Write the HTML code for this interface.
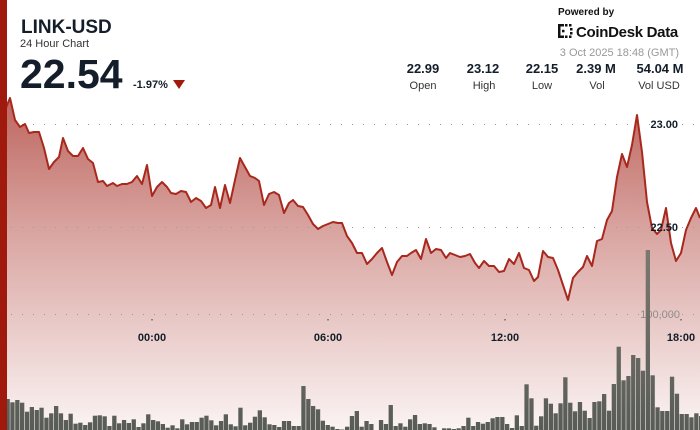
<!DOCTYPE html>
<html><head><meta charset="utf-8"><style>
html,body{margin:0;padding:0;background:#fff;}
svg{display:block;font-family:"Liberation Sans",sans-serif;}
</style></head><body>
<svg width="700" height="430" viewBox="0 0 700 430" xmlns="http://www.w3.org/2000/svg">
<defs>
<linearGradient id="af" gradientUnits="userSpaceOnUse" x1="0" y1="100" x2="0" y2="430">
<stop offset="0" stop-color="rgb(160,30,20)" stop-opacity="0.68"/>
<stop offset="0.4" stop-color="rgb(160,30,20)" stop-opacity="0.40"/>
<stop offset="1" stop-color="rgb(160,30,20)" stop-opacity="0.05"/>
</linearGradient>
<linearGradient id="vb" gradientUnits="userSpaceOnUse" x1="0" y1="250" x2="0" y2="430">
<stop offset="0" stop-color="#7c7870"/>
<stop offset="1" stop-color="#585c56"/>
</linearGradient>
</defs>
<rect width="700" height="430" fill="#fff"/>
<path fill="url(#af)" d="M0,115 L5,110 L10,98 L15,120 L20,127 L25,124 L29,133 L34,132 L39,132 L44,148 L49,169 L54,162 L59,157 L63,138 L68,151 L73,156 L78,156 L83,148 L88,159 L93,163 L98,182 L103,181 L107,186 L113,183 L117,186 L122,184 L127,184 L132,182 L137,176 L142,184 L147,165 L152,196 L157,187 L162,182 L167,187 L171,193 L176,194 L181,191 L186,192 L191,202 L196,198 L201,201 L206,208 L211,205 L215,187 L220,208 L225,185 L230,203 L235,180 L240,158 L245,167 L250,176 L255,178 L259,181 L264,205 L269,194 L274,192 L279,195 L284,213 L289,203 L293,200 L298,206 L303,207 L308,215 L313,224 L318,229 L323,226 L328,224 L333,222 L338,223 L342,223 L347,236 L352,243 L357,253 L362,253 L367,264 L372,259 L377,253 L382,248 L387,262 L392,275 L397,262 L402,256 L407,256 L411,253 L416,250 L421,259 L426,239 L431,253 L436,249 L441,250 L446,258 L450,253 L455,255 L460,257 L465,256 L470,254 L475,263 L479,268 L484,261 L489,266 L494,266 L499,272 L504,271 L509,259 L514,264 L519,253 L524,268 L529,270 L534,281 L538,277 L543,251 L548,257 L553,258 L558,270 L563,285 L568,300 L573,278 L578,272 L583,267 L587,256 L592,266 L597,241 L602,239 L607,220 L612,211 L617,177 L622,154 L627,167 L632,145 L637,115 L642,152 L647,202 L652,228 L657,234 L661,230 L666,208 L671,243 L676,261 L681,253 L686,230 L691,218 L696,208 L700,218 L700,430 L0,430 Z"/>
<g stroke="#999" stroke-width="1" stroke-dasharray="1 10">
<line x1="11" y1="124.5" x2="700" y2="124.5"/>
<line x1="11" y1="227.5" x2="700" y2="227.5"/>
<line x1="11" y1="314.5" x2="700" y2="314.5"/>
</g>
<polyline fill="none" stroke="#a8281d" stroke-width="2" stroke-linejoin="round" points="0,115 5,110 10,98 15,120 20,127 25,124 29,133 34,132 39,132 44,148 49,169 54,162 59,157 63,138 68,151 73,156 78,156 83,148 88,159 93,163 98,182 103,181 107,186 113,183 117,186 122,184 127,184 132,182 137,176 142,184 147,165 152,196 157,187 162,182 167,187 171,193 176,194 181,191 186,192 191,202 196,198 201,201 206,208 211,205 215,187 220,208 225,185 230,203 235,180 240,158 245,167 250,176 255,178 259,181 264,205 269,194 274,192 279,195 284,213 289,203 293,200 298,206 303,207 308,215 313,224 318,229 323,226 328,224 333,222 338,223 342,223 347,236 352,243 357,253 362,253 367,264 372,259 377,253 382,248 387,262 392,275 397,262 402,256 407,256 411,253 416,250 421,259 426,239 431,253 436,249 441,250 446,258 450,253 455,255 460,257 465,256 470,254 475,263 479,268 484,261 489,266 494,266 499,272 504,271 509,259 514,264 519,253 524,268 529,270 534,281 538,277 543,251 548,257 553,258 558,270 563,285 568,300 573,278 578,272 583,267 587,256 592,266 597,241 602,239 607,220 612,211 617,177 622,154 627,167 632,145 637,115 642,152 647,202 652,228 657,234 661,230 666,208 671,243 676,261 681,253 686,230 691,218 696,208 700,218"/>
<g font-size="11" font-weight="bold" fill="#141e2b">
<text x="678" y="128" text-anchor="end">23.00</text>
<text x="678" y="231" text-anchor="end">22.50</text>
<text x="152" y="341" text-anchor="middle">00:00</text>
<text x="328" y="341" text-anchor="middle">06:00</text>
<text x="505" y="341" text-anchor="middle">12:00</text>
<text x="681" y="341" text-anchor="middle">18:00</text>
</g>
<text x="680" y="318" text-anchor="end" font-size="11" fill="#8c8c8c">100,000</text>
<g fill="#333">
<rect x="151.5" y="319" width="1" height="1.5"/>
<rect x="327.5" y="319" width="1" height="1.5"/>
<rect x="504.5" y="319" width="1" height="1.5"/>
<rect x="680.5" y="319" width="1" height="1.5"/>
</g>
<g fill="url(#vb)">
<rect x="5.5" y="399" width="4.3" height="31"/>
<rect x="10.3" y="402.3" width="4.3" height="27.7"/>
<rect x="15.2" y="400" width="4.3" height="30"/>
<rect x="20.0" y="402.7" width="4.3" height="27.3"/>
<rect x="24.9" y="411.7" width="4.3" height="18.3"/>
<rect x="29.7" y="407" width="4.3" height="23"/>
<rect x="34.6" y="410" width="4.3" height="20"/>
<rect x="39.4" y="407.7" width="4.3" height="22.3"/>
<rect x="44.3" y="417.7" width="4.3" height="12.3"/>
<rect x="49.1" y="413.3" width="4.3" height="16.7"/>
<rect x="54.0" y="406" width="4.3" height="24"/>
<rect x="58.8" y="413.3" width="4.3" height="16.7"/>
<rect x="63.7" y="420" width="4.3" height="10"/>
<rect x="68.5" y="413.7" width="4.3" height="16.3"/>
<rect x="73.4" y="423.7" width="4.3" height="6.3"/>
<rect x="78.2" y="422.7" width="4.3" height="7.3"/>
<rect x="83.1" y="425" width="4.3" height="5"/>
<rect x="87.9" y="422.3" width="4.3" height="7.7"/>
<rect x="92.8" y="415.7" width="4.3" height="14.3"/>
<rect x="97.6" y="415.3" width="4.3" height="14.7"/>
<rect x="102.5" y="416.3" width="4.3" height="13.7"/>
<rect x="107.3" y="426" width="4.3" height="4"/>
<rect x="112.2" y="415.7" width="4.3" height="14.3"/>
<rect x="117.0" y="423.3" width="4.3" height="6.7"/>
<rect x="121.9" y="420" width="4.3" height="10"/>
<rect x="126.7" y="423" width="4.3" height="7"/>
<rect x="131.6" y="419.3" width="4.3" height="10.7"/>
<rect x="136.4" y="427" width="4.3" height="3"/>
<rect x="141.3" y="423.3" width="4.3" height="6.7"/>
<rect x="146.1" y="414.3" width="4.3" height="15.7"/>
<rect x="151.0" y="420" width="4.3" height="10"/>
<rect x="155.8" y="421.3" width="4.3" height="8.7"/>
<rect x="160.7" y="424" width="4.3" height="6"/>
<rect x="165.5" y="427.7" width="4.3" height="2.3"/>
<rect x="170.4" y="425.3" width="4.3" height="4.7"/>
<rect x="175.2" y="428.3" width="4.3" height="1.7"/>
<rect x="180.1" y="419.3" width="4.3" height="10.7"/>
<rect x="184.9" y="424.3" width="4.3" height="5.7"/>
<rect x="189.8" y="422" width="4.3" height="8"/>
<rect x="194.6" y="422" width="4.3" height="8"/>
<rect x="199.5" y="417.7" width="4.3" height="12.3"/>
<rect x="204.3" y="415.7" width="4.3" height="14.3"/>
<rect x="209.2" y="420.3" width="4.3" height="9.7"/>
<rect x="214.0" y="425.3" width="4.3" height="4.7"/>
<rect x="218.9" y="421" width="4.3" height="9"/>
<rect x="223.7" y="414.3" width="4.3" height="15.7"/>
<rect x="228.6" y="424.3" width="4.3" height="5.7"/>
<rect x="233.4" y="426.3" width="4.3" height="3.7"/>
<rect x="238.3" y="407.7" width="4.3" height="22.3"/>
<rect x="243.1" y="425.3" width="4.3" height="4.7"/>
<rect x="248.0" y="422.7" width="4.3" height="7.3"/>
<rect x="252.8" y="416.7" width="4.3" height="13.3"/>
<rect x="257.7" y="410.3" width="4.3" height="19.7"/>
<rect x="262.5" y="417.3" width="4.3" height="12.7"/>
<rect x="267.4" y="424.3" width="4.3" height="5.7"/>
<rect x="272.2" y="425" width="4.3" height="5"/>
<rect x="277.1" y="427" width="4.3" height="3"/>
<rect x="281.9" y="421" width="4.3" height="9"/>
<rect x="286.8" y="421" width="4.3" height="9"/>
<rect x="291.6" y="426" width="4.3" height="4"/>
<rect x="296.5" y="426" width="4.3" height="4"/>
<rect x="301.3" y="386" width="4.3" height="44"/>
<rect x="306.2" y="399" width="4.3" height="31"/>
<rect x="311.0" y="406" width="4.3" height="24"/>
<rect x="315.9" y="409.3" width="4.3" height="20.7"/>
<rect x="320.7" y="420.7" width="4.3" height="9.3"/>
<rect x="325.6" y="425" width="4.3" height="5"/>
<rect x="330.4" y="426.7" width="4.3" height="3.3"/>
<rect x="335.3" y="429" width="4.3" height="1"/>
<rect x="340.1" y="429.5" width="4.3" height="0.5"/>
<rect x="345.0" y="426.7" width="4.3" height="3.3"/>
<rect x="349.8" y="416" width="4.3" height="14"/>
<rect x="354.7" y="411" width="4.3" height="19"/>
<rect x="359.5" y="426.7" width="4.3" height="3.3"/>
<rect x="364.4" y="421" width="4.3" height="9"/>
<rect x="369.2" y="424" width="4.3" height="6"/>
<rect x="378.9" y="420" width="4.3" height="10"/>
<rect x="383.8" y="424" width="4.3" height="6"/>
<rect x="388.6" y="405" width="4.3" height="25"/>
<rect x="393.5" y="426" width="4.3" height="4"/>
<rect x="398.3" y="423.3" width="4.3" height="6.7"/>
<rect x="403.2" y="426.7" width="4.3" height="3.3"/>
<rect x="408.0" y="419.3" width="4.3" height="10.7"/>
<rect x="412.9" y="415" width="4.3" height="15"/>
<rect x="417.7" y="424" width="4.3" height="6"/>
<rect x="422.6" y="423.3" width="4.3" height="6.7"/>
<rect x="427.4" y="424" width="4.3" height="6"/>
<rect x="432.3" y="427.3" width="4.3" height="2.7"/>
<rect x="442.0" y="428.3" width="4.3" height="1.7"/>
<rect x="446.8" y="428.3" width="4.3" height="1.7"/>
<rect x="451.7" y="429" width="4.3" height="1"/>
<rect x="456.5" y="428.3" width="4.3" height="1.7"/>
<rect x="461.4" y="426" width="4.3" height="4"/>
<rect x="466.2" y="417.7" width="4.3" height="12.3"/>
<rect x="471.1" y="426" width="4.3" height="4"/>
<rect x="475.9" y="422" width="4.3" height="8"/>
<rect x="480.8" y="423.7" width="4.3" height="6.3"/>
<rect x="485.6" y="422" width="4.3" height="8"/>
<rect x="490.5" y="418.3" width="4.3" height="11.7"/>
<rect x="495.3" y="417" width="4.3" height="13"/>
<rect x="500.2" y="417" width="4.3" height="13"/>
<rect x="505.0" y="424" width="4.3" height="6"/>
<rect x="509.9" y="428" width="4.3" height="2"/>
<rect x="514.7" y="415.3" width="4.3" height="14.7"/>
<rect x="519.6" y="426" width="4.3" height="4"/>
<rect x="524.4" y="384.3" width="4.3" height="45.7"/>
<rect x="529.3" y="398.3" width="4.3" height="31.7"/>
<rect x="534.1" y="425.7" width="4.3" height="4.3"/>
<rect x="539.0" y="416.3" width="4.3" height="13.7"/>
<rect x="543.8" y="398.3" width="4.3" height="31.7"/>
<rect x="548.7" y="403.7" width="4.3" height="26.3"/>
<rect x="553.5" y="413.3" width="4.3" height="16.7"/>
<rect x="558.4" y="403.3" width="4.3" height="26.7"/>
<rect x="563.2" y="377.3" width="4.3" height="52.7"/>
<rect x="568.1" y="402.7" width="4.3" height="27.3"/>
<rect x="572.9" y="411.3" width="4.3" height="18.7"/>
<rect x="577.8" y="402" width="4.3" height="28"/>
<rect x="582.6" y="410.7" width="4.3" height="19.3"/>
<rect x="587.5" y="418" width="4.3" height="12"/>
<rect x="592.3" y="402" width="4.3" height="28"/>
<rect x="597.2" y="401.3" width="4.3" height="28.7"/>
<rect x="602.0" y="394" width="4.3" height="36"/>
<rect x="606.9" y="410.7" width="4.3" height="19.3"/>
<rect x="611.7" y="384" width="4.3" height="46"/>
<rect x="616.6" y="346.7" width="4.3" height="83.3"/>
<rect x="621.4" y="380.3" width="4.3" height="49.7"/>
<rect x="626.3" y="376" width="4.3" height="54"/>
<rect x="631.1" y="355" width="4.3" height="75"/>
<rect x="636.0" y="358" width="4.3" height="72"/>
<rect x="640.8" y="370.7" width="4.3" height="59.3"/>
<rect x="645.7" y="250" width="4.3" height="180"/>
<rect x="650.5" y="375.3" width="4.3" height="54.7"/>
<rect x="655.4" y="407.3" width="4.3" height="22.7"/>
<rect x="660.2" y="411" width="4.3" height="19"/>
<rect x="665.1" y="411" width="4.3" height="19"/>
<rect x="669.9" y="376.7" width="4.3" height="53.3"/>
<rect x="674.8" y="393.7" width="4.3" height="36.3"/>
<rect x="679.6" y="414" width="4.3" height="16"/>
<rect x="684.5" y="414" width="4.3" height="16"/>
<rect x="689.3" y="417.3" width="4.3" height="12.7"/>
<rect x="694.2" y="413.3" width="4.3" height="16.7"/>
<rect x="699.0" y="416" width="4.3" height="14"/>
</g>
<rect x="0" y="0" width="7" height="430" fill="#a0190d"/>
<text x="21" y="33" font-size="19" font-weight="bold" fill="#141e2b">LINK-USD</text>
<text x="20" y="47" font-size="11" fill="#333">24 Hour Chart</text>
<text x="20" y="88" font-size="41" font-weight="bold" fill="#141e2b">22.54</text>
<text x="133" y="88" font-size="11" font-weight="bold" fill="#141e2b">-1.97%</text>
<polygon points="173,80 185,80 179,89" fill="#a0190d"/>
<text x="558" y="15" font-size="10" font-weight="bold" fill="#111">Powered by</text>
<g fill="#111">
<rect x="558" y="24" width="2.5" height="14"/>
<rect x="560" y="24" width="4" height="2.5"/>
<rect x="560" y="35.5" width="4" height="2.5"/>
<rect x="565" y="24" width="2.5" height="2.5"/>
<rect x="565" y="35.5" width="2.5" height="2.5"/>
<rect x="562" y="29.8" width="2.5" height="2.5"/>
<rect x="569" y="24" width="2.5" height="2.5"/>
<rect x="569" y="35.5" width="2.5" height="2.5"/>
<rect x="570" y="28" width="2.5" height="2.5"/>
<rect x="570" y="32" width="2.5" height="2.5"/>
</g>
<text x="576" y="37" font-size="15" font-weight="bold" fill="#111" letter-spacing="-0.3">CoinDesk Data</text>
<text x="679" y="56" font-size="11" fill="#999" text-anchor="end">3 Oct 2025 18:48 (GMT)</text>
<g font-size="13" font-weight="bold" fill="#141e2b" text-anchor="middle">
<text x="423" y="73">22.99</text>
<text x="483" y="73">23.12</text>
<text x="542" y="73">22.15</text>
<text x="596" y="73">2.39 M</text>
<text x="660" y="73">54.04 M</text>
</g>
<g font-size="11" fill="#333" text-anchor="middle">
<text x="423" y="89">Open</text>
<text x="484" y="89">High</text>
<text x="542" y="89">Low</text>
<text x="597" y="89">Vol</text>
<text x="659" y="89">Vol USD</text>
</g>
</svg>
</body></html>
